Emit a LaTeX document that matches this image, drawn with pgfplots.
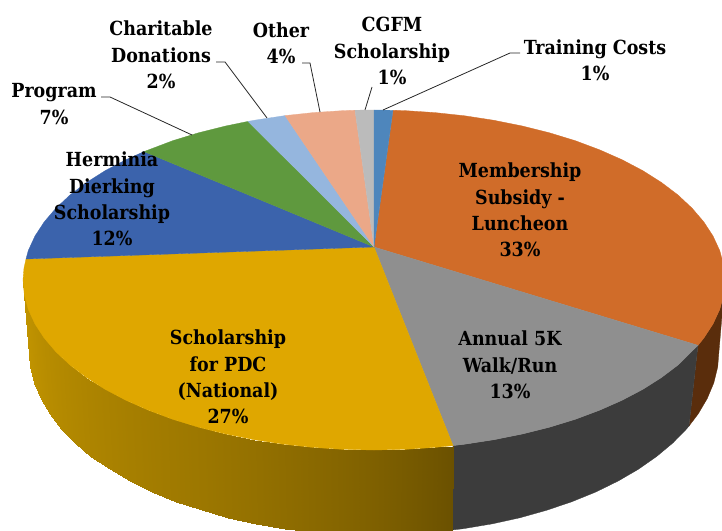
\documentclass[border=0pt]{standalone}
\usepackage{pgfplots}
\pgfplotsset{compat=1.18}
\usepackage{fontspec}
\setmainfont{DejaVu Serif Condensed}
\definecolor{cOrange}{HTML}{D06C29}
\definecolor{cGray}{HTML}{8F8F8F}
\definecolor{cYellow}{HTML}{DFA700}
\definecolor{cBlue}{HTML}{3B63AC}
\definecolor{cGreen}{HTML}{5F993E}
\definecolor{cLBlue}{HTML}{95B6DE}
\definecolor{cSalmon}{HTML}{EBA888}
\definecolor{cLGray}{HTML}{BBBBBB}
\definecolor{cSteel}{HTML}{4E86BC}
\definecolor{wOrange}{HTML}{5A2D0C}
\definecolor{wGray}{HTML}{3C3C3C}
\definecolor{wL}{HTML}{C09300}
\definecolor{wR}{HTML}{6B5100}
\tikzset{lab/.style={font=\bfseries\fontsize{19.5}{26.5}\selectfont,align=center,text=black,inner sep=0pt}}
\pgfplotsset{face/.style={fill=#1,draw=#1,line width=0.3pt},
  lead/.style={draw=black!85,line width=0.8pt}}
\begin{document}
\begin{tikzpicture}
\useasboundingbox (0,0) rectangle (722bp,531bp);
\begin{axis}[hide axis,scale only axis,width=722bp,height=531bp,xmin=0,xmax=722,ymin=0,ymax=531,y dir=reverse,clip=true,anchor=south west,at={(0,0)},
 colormap={wall}{color=(wL) color=(wR)},point meta min=0,point meta max=100]
% side walls
\addplot[face=wOrange] coordinates {(698,345.3)(703.8,338.1)(713,324)(719.7,309.5)(723.7,294.8)(725,280)(719,351)(717.7,367)(713.8,382.9)(707.2,398.6)(698.2,413.9)(689,426)} --cycle;
\addplot[face=wGray] coordinates {(698,345.3)(678,365)(661.5,377.5)(642.9,389.3)(622.2,400.2)(599.6,410.2)(575.3,419.3)(549.5,427.2)(522.3,434)(494,439.7)(464.8,444.2)(453,445.6)(452,530)(463.3,528.7)(492,523.9)(519.8,517.8)(546.5,510.3)(571.9,501.7)(595.8,492)(618,481.1)(638.3,469.3)(656.6,456.5)(672.8,443)(686.7,428.8)(689,426)} --cycle;
\addplot[patch,patch type=rectangle,shader=interp,point meta=explicit] coordinates {
(23,280)[0] (24.3,294.8)[0] (30.3,367)[0] (29,351)[0]
(24.3,294.8)[0] (28.3,309.5)[2] (34.2,383)[2] (30.3,367)[0]
(28.3,309.5)[2] (35,324)[6] (40.8,398.6)[6] (34.2,383)[2]
(35,324)[6] (44.2,338.1)[10] (49.8,413.9)[10] (40.8,398.6)[6]
(44.2,338.1)[10] (55.9,351.8)[14] (61.3,428.8)[14] (49.8,413.9)[10]
(55.9,351.8)[14] (70,365)[18] (75.2,443)[18] (61.3,428.8)[14]
(70,365)[18] (86.5,377.5)[22] (91.4,456.5)[22] (75.2,443)[18]
(86.5,377.5)[22] (105.1,389.3)[26] (109.7,469.3)[26] (91.4,456.5)[22]
(105.1,389.3)[26] (125.8,400.2)[30] (130,481.1)[30] (109.7,469.3)[26]
(125.8,400.2)[30] (148.4,410.2)[34] (152.2,492)[34] (130,481.1)[30]
(148.4,410.2)[34] (172.7,419.3)[38] (176.1,501.7)[38] (152.2,492)[34]
(172.7,419.3)[38] (198.5,427.2)[42] (201.5,510.3)[42] (176.1,501.7)[38]
(198.5,427.2)[42] (225.7,434)[47] (228.2,517.8)[47] (201.5,510.3)[42]
(225.7,434)[47] (254,439.7)[52] (256,523.9)[52] (228.2,517.8)[47]
(254,439.7)[52] (283.2,444.2)[58] (284.7,528.7)[58] (256,523.9)[52]
(283.2,444.2)[58] (313.1,447.4)[64] (314.1,532.2)[64] (284.7,528.7)[58]
(313.1,447.4)[64] (343.4,449.4)[70] (343.9,534.3)[70] (314.1,532.2)[64]
(343.4,449.4)[70] (374,450)[77] (374,535)[77] (343.9,534.3)[70]
(374,450)[77] (404.6,449.4)[85] (404.1,534.3)[85] (374,535)[77]
(404.6,449.4)[85] (434.9,447.4)[94] (433.9,532.2)[94] (404.1,534.3)[85]
(434.9,447.4)[94] (453,445.6)[100] (452,530)[100] (433.9,532.2)[94]
};
% top faces
\addplot[face=cOrange] coordinates {(374,247)(393,110.3)(404.6,110.6)(434.9,112.6)(464.8,115.8)(494,120.3)(522.3,126)(549.5,132.8)(575.3,140.7)(599.6,149.8)(622.2,159.8)(642.9,170.7)(661.5,182.5)(678,195)(692.1,208.2)(703.8,221.9)(713,236)(719.7,250.5)(723.7,265.2)(725,280)(723.7,294.8)(719.7,309.5)(713,324)(703.8,338.1)(698,345.3)} --cycle;
\addplot[face=cGray] coordinates {(374,247)(698,345.3)(678,365)(661.5,377.5)(642.9,389.3)(622.2,400.2)(599.6,410.2)(575.3,419.3)(549.5,427.2)(522.3,434)(494,439.7)(464.8,444.2)(453,445.6)} --cycle;
\addplot[face=cYellow] coordinates {(374,247)(453,445.6)(434.9,447.4)(404.6,449.4)(374,450)(343.4,449.4)(313.1,447.4)(283.2,444.2)(254,439.7)(225.7,434)(198.5,427.2)(172.7,419.3)(148.4,410.2)(125.8,400.2)(105.1,389.3)(86.5,377.5)(70,365)(55.9,351.8)(44.2,338.1)(35,324)(28.3,309.5)(24.3,294.8)(23,280)(24,268)(26,259)} --cycle;
\addplot[face=cBlue] coordinates {(374,247)(26,259)(28.3,250.5)(35,236)(44.2,221.9)(55.9,208.2)(70,195)(86.5,182.5)(105.1,170.7)(125.8,159.8)(144,151.6)} --cycle;
\addplot[face=cGreen] coordinates {(374,247)(144,151.6)(172.7,140.7)(198.5,132.8)(225.7,126)(248,121.4)} --cycle;
\addplot[face=cLBlue] coordinates {(374,247)(248,121.4)(254,120.3)(285,115.6)} --cycle;
\addplot[face=cSalmon] coordinates {(374,247)(285,115.6)(313.1,112.6)(343.4,110.6)(355,110.2)} --cycle;
\addplot[face=cLGray] coordinates {(374,247)(355,110.2)(374,110)} --cycle;
\addplot[face=cSteel] coordinates {(374,247)(374,110)(393,110.3)} --cycle;
% leader lines
\addplot[lead] coordinates {(383,110)(510,53)(520,53)};
\addplot[lead] coordinates {(365,110)(372,87)};
\addplot[lead] coordinates {(320,112)(310,63)(302,63)};
\addplot[lead] coordinates {(267,118)(225,62)(216,62)};
\addplot[lead] coordinates {(192,135)(110,97)(101,97)};
% labels
\node[lab] at (axis cs:595,60) {Training Costs\\1\%};
\node[lab] at (axis cs:392,51) {CGFM\\Scholarship\\1\%};
\node[lab] at (axis cs:281,43) {Other\\4\%};
\node[lab] at (axis cs:161,55) {Charitable\\Donations\\2\%};
\node[lab] at (axis cs:54,104) {Program\\7\%};
\node[lab] at (axis cs:112,199) {Herminia\\Dierking\\Scholarship\\12\%};
\node[lab] at (axis cs:520,210) {Membership\\Subsidy -\\Luncheon\\33\%};
\node[lab] at (axis cs:510,365) {Annual 5K\\Walk/Run\\13\%};
\node[lab] at (axis cs:228,377) {Scholarship\\for PDC\\(National)\\27\%};
\end{axis}
\end{tikzpicture}
\end{document}
